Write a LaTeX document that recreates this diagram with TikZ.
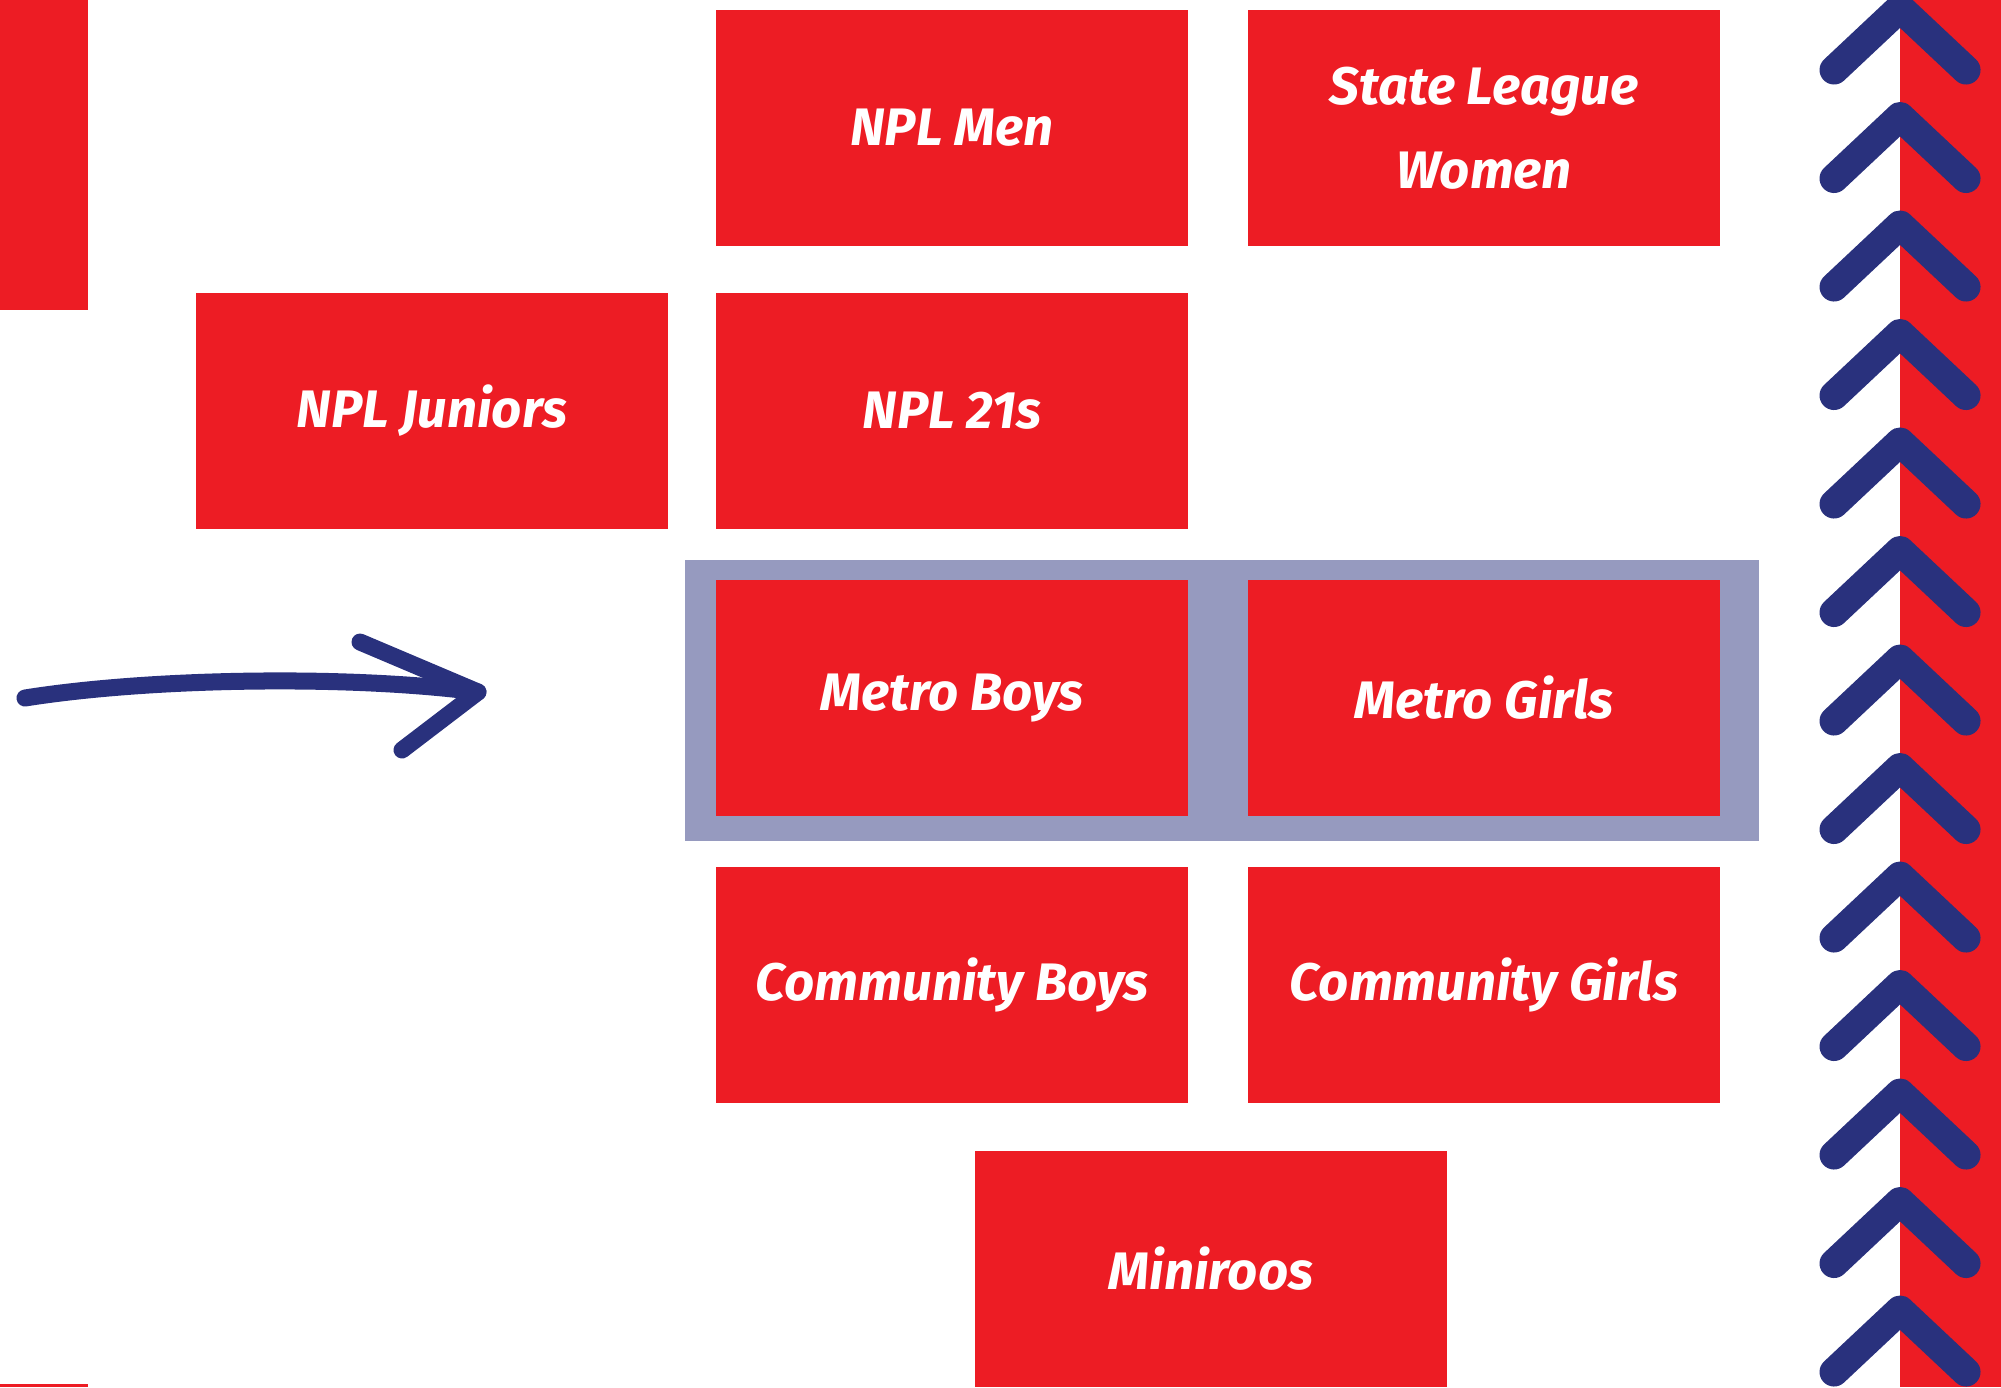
\documentclass[tikz,border=0pt]{standalone}
\usepackage{fontspec}
\setmainfont{Fira Sans}
\usetikzlibrary{positioning}
\definecolor{clubred}{HTML}{ED1C24}
\definecolor{clubnavy}{HTML}{29317D}
\definecolor{clublilac}{HTML}{969ABF}
\newcommand{\boxw}{4.72cm}
\newcommand{\boxh}{2.357cm}

\begin{document}
\begin{tikzpicture}[x=0.01cm, y=-0.01cm,
    level/.style={fill=clubred, text=white, minimum width=\boxw, minimum height=\boxh, inner sep=0pt, align=center, font=\fontsize{15}{24}\selectfont\bfseries\itshape},
    chev/.style={draw=clubnavy, line width=0.29cm, line cap=round, line join=round},
    pen/.style={draw=clubnavy, line width=0.17cm, line cap=round, line join=round}]
    \useasboundingbox (0,0) rectangle (2001,1387);

    % red strips
    \fill[clubred] (0,0) rectangle (88,310);
    \fill[clubred] (0,1384) rectangle (88,1387);
    \fill[clubred] (1900,0) rectangle (2001,1387);

    % highlight behind the metro row
    \fill[clublilac] (685,560) rectangle (1759,841);

    \node[level] (NPLM) at (952,128) {NPL Men};
    \node[level] (SLW) at (1484,128) {State League\\Women};
    \node[level] (NPLJ) at (432,411) {NPL Juniors};
    \node[level] (NPL21) at (952,411) {NPL 21s};
    \node[level] (MB) at (952,698) {Metro Boys};
    \node[level] (MG) at (1484,698) {Metro Girls};
    \node[level] (CB) at (952,985) {Community Boys};
    \node[level] (CG) at (1484,985) {Community Girls};
    \node[level] (MR) at (1211,1269) {Miniroos};

    % chevrons up the right edge
    \foreach \k in {0,...,12} {
        \draw[chev] (1834,70+108.5*\k) -- (1900,8+108.5*\k) -- (1966,70+108.5*\k);
    }

    % hand drawn arrow
    \coordinate (S) at (25,698);
    \coordinate (T) at (478,692);
    \coordinate (U) at (360,642);
    \coordinate (L) at (402,750);
    \draw[pen] (S) .. controls (150,678) and (350,675) .. (T);
    \draw[pen] (U) -- (T) -- (L);
\end{tikzpicture}
\end{document}
